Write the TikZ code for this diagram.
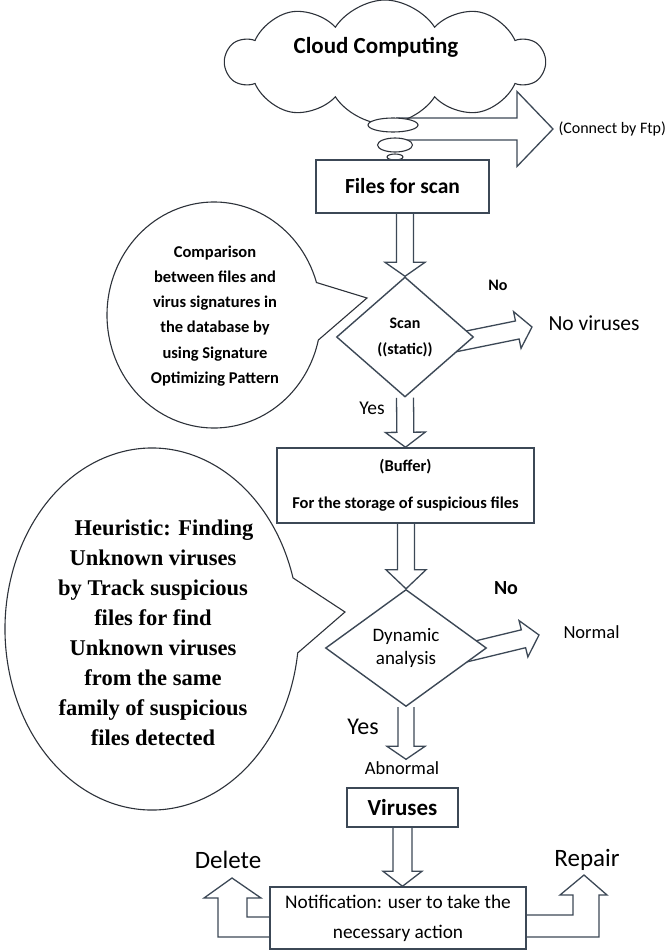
\documentclass[tikz,border=0pt]{standalone}
\usepackage{fontspec}
\setmainfont{Carlito}
\newfontfamily\serifb{Liberation Serif}
\usetikzlibrary{shapes.geometric,shapes.symbols,calc}
\pgfdeclarelayer{bg}
\pgfsetlayers{bg,main}
\definecolor{edge}{RGB}{60,72,86}
\definecolor{bub}{RGB}{45,50,58}
\tikzset{
  box/.style={draw=edge, line width=1.5pt, fill=white, inner sep=0pt},
  dia/.style={diamond, draw=edge, line width=1.4pt, fill=white, inner sep=0pt, align=center},
  blockarrow/.style={draw=edge, line width=1.3pt, fill=white, line join=miter},
  bubble/.style={draw=bub, line width=1.1pt, fill=white},
  thought/.style={ellipse, draw=bub, line width=1.1pt, fill=white, inner sep=0pt},
}
% start, end, shaft half width, head half width, head length
\newcommand\hollowarrow[5]{%
  \coordinate (hah) at ($(#2)!#5!(#1)$);
  \draw[blockarrow] ($(#1)!#3!90:(#2)$) -- ($(hah)!#3!-90:(#1)$) -- ($(hah)!#4!-90:(#1)$)
     -- (#2) -- ($(hah)!#4!90:(#1)$) -- ($(hah)!#3!90:(#1)$) -- ($(#1)!#3!-90:(#2)$);
}
\begin{document}
\begin{tikzpicture}[x=1pt,y=-1pt]
\path[use as bounding box] (0,0) rectangle (665,950);

% cloud
\node[cloud, draw=bub, line width=1.1pt, cloud puffs=10, cloud puff arc=115, cloud ignores aspect,
      minimum width=318pt, minimum height=124pt, inner sep=0pt] (cloud) at (385,62) {};
\node[font=\bfseries\fontsize{23}{27}\selectfont] (cloudtxt) at (376,47) {Cloud Computing};

% thought ellipses
\node[thought, minimum width=50pt, minimum height=14pt] (t1) at (393,125) {};
\node[thought, minimum width=35pt, minimum height=14pt] (t2) at (395,145) {};
\node[thought, minimum width=16pt, minimum height=6pt] (t3) at (395,157) {};
\coordinate (ftpS) at (396,129);
\coordinate (ftpE) at (553,129);
\node[anchor=west, font=\fontsize{16}{19}\selectfont] (ftp) at (555,129) {(Connect by Ftp)};

% main boxes
\node[box, minimum width=173pt, minimum height=53pt, font=\bfseries\fontsize{21.5}{26}\selectfont] (files) at (402.5,186.5) {Files for scan};
\node[dia, minimum width=137pt, minimum height=120pt, font=\bfseries\fontsize{16}{26}\selectfont] (scan) at (405,337) {Scan\\((static))};
\node[box, minimum width=257pt, minimum height=75pt, align=center, font=\bfseries\fontsize{16.5}{37}\selectfont] (buffer) at (405.5,485.5) {(Buffer)\\For the storage of suspicious files};
\node[dia, minimum width=161pt, minimum height=117pt, font=\fontsize{19}{23}\selectfont] (dyn) at (406,648) {Dynamic\\analysis};
\node[box, minimum width=111pt, minimum height=39pt, font=\bfseries\fontsize{23}{27}\selectfont] (viruses) at (402.5,807.5) {Viruses};
\node[box, minimum width=256pt, minimum height=62pt, align=center, font=\fontsize{19.3}{30}\selectfont] (notif) at (398,918) {Notification: user to take the\\necessary action};

% labels
\node[font=\bfseries\fontsize{16}{19}\selectfont] (no1) at (498,285) {No};
\node[anchor=west, font=\fontsize{21.5}{25}\selectfont] (novir) at (545,323) {No viruses};
\node[font=\fontsize{19.5}{23}\selectfont] (yes1) at (372,408) {Yes};
\node[font=\bfseries\fontsize{20}{24}\selectfont] (no2) at (506,588) {No};
\node[anchor=west, font=\fontsize{18.5}{22}\selectfont] (normal) at (560,632) {Normal};
\node[font=\fontsize{24}{28}\selectfont] (yes2) at (363,727) {Yes};
\node[font=\fontsize{18.5}{22}\selectfont, inner sep=2pt] (abn) at (402,768) {Abnormal};
\node[font=\fontsize{25}{30}\selectfont] (delete) at (228,860) {Delete};
\node[font=\fontsize{25}{30}\selectfont] (repair) at (587,860) {Repair};

% speech bubbles
\coordinate (b1c) at (214,315);
\coordinate (b1tip) at (367,298);
\draw[bubble] ([shift={(16.7:107pt and 113pt)}]b1c) arc[start angle=16.7, end angle=347.2, x radius=107pt, y radius=113pt] -- (b1tip) -- cycle;
\node[font=\bfseries\fontsize{16.5}{25.2}\selectfont, align=center] (b1txt) at (215,316)
  {Comparison\\between files and\\virus signatures in\\the database by\\using Signature\\Optimizing Pattern};

\coordinate (b2c) at (152,629);
\coordinate (b2tip) at (345,612);
\draw[bubble] ([shift={(16.4:147pt and 181pt)}]b2c) arc[start angle=16.4, end angle=352.4, x radius=147pt, y radius=181pt] -- (b2tip) -- cycle;
\node[font=\serifb\bfseries\fontsize{22.5}{30}\selectfont, align=center] (b2txt) at (153,633)
  {\hspace*{22pt}Heuristic: Finding\\Unknown viruses\\by Track suspicious\\files for find\\Unknown viruses\\from the same\\family of suspicious\\files detected};

% block arrows (behind)
\begin{pgfonlayer}{bg}
\hollowarrow{ftpS}{ftpE}{11pt}{37.5pt}{36pt}
\coordinate (a1s) at (scan.north |- files.south);
\hollowarrow{a1s}{scan.north}{8.5pt}{20pt}{14pt}
\hollowarrow{scan.south}{buffer.north}{8.5pt}{20pt}{15pt}
\coordinate (a3s) at (dyn.north |- buffer.south);
\hollowarrow{a3s}{dyn.north}{8.5pt}{20pt}{19pt}
\coordinate (a4e) at (dyn.south |- abn.north);
\hollowarrow{dyn.south}{a4e}{8pt}{19pt}{13pt}
\coordinate (a5e) at (viruses.south |- notif.north);
\hollowarrow{viruses.south}{a5e}{9.5pt}{19.5pt}{15pt}
% side arrows
\coordinate (a6b) at ($(scan.east)!0.15!(scan.south)$);
\coordinate (a6s) at ($(scan.center)!0.75!(a6b)$);
\coordinate (a6e) at (532,327);
\hollowarrow{a6s}{a6e}{9.2pt}{18.7pt}{15pt}
\coordinate (a7b) at ($(dyn.east)!0.15!(dyn.south)$);
\coordinate (a7s) at ($(dyn.center)!0.75!(a7b)$);
\coordinate (a7e) at (539,635);
\hollowarrow{a7s}{a7e}{9.2pt}{18.7pt}{16pt}
% delete / repair
\draw[blockarrow] ($(notif.west)+(3,19)$) -- (218,937) -- (218,898) -- (204,898) -- (232,878)
   -- (261,898) -- (247,898) -- (247,917) -- ($(notif.west)+(3,-1)$);
\draw[blockarrow] ($(notif.east)+(-3,19)$) -- (599,937) -- (599,895) -- (607,895) -- (584,875)
   -- (560,895) -- (573,895) -- (573,915) -- ($(notif.east)+(-3,-3)$);
\end{pgfonlayer}
\end{tikzpicture}
\end{document}
